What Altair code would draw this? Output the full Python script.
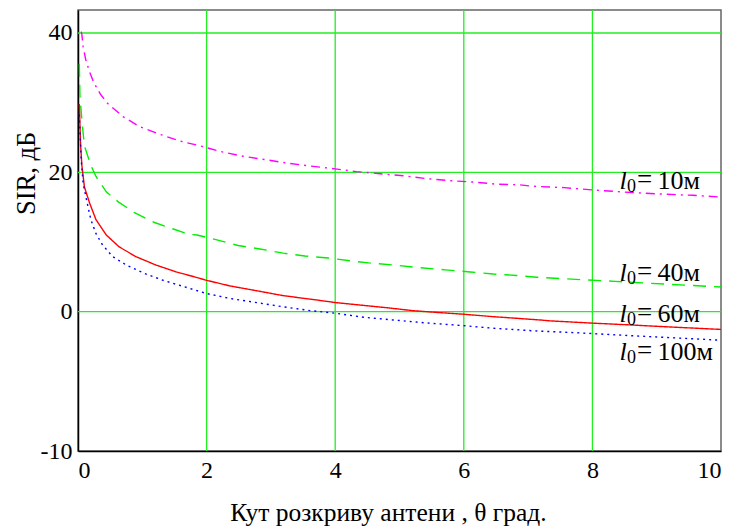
import altair as alt
import pandas as pd

# ---- data ----
series_names = ["l0=10", "l0=40", "l0=60", "l0=100"]

x_10 = [0.05, 0.06, 0.08, 0.12, 0.18, 0.25, 0.35, 0.46, 0.70, 0.95, 1.26, 1.58, 1.90, 2.21,
        2.57, 2.93, 3.27, 3.61, 4.00, 4.33, 4.70, 5.06, 5.42, 5.79, 6.15, 6.51, 6.87, 7.08,
        7.56, 8.03, 8.61, 9.14, 9.56, 10.0]
y_10 = [40.2, 39.8, 38.0, 36.2, 34.4, 32.8, 31.2, 29.9, 28.0, 26.6, 25.5, 24.5, 23.8, 23.0,
        22.3, 21.8, 21.3, 20.9, 20.5, 20.1, 19.8, 19.5, 19.1, 18.8, 18.6, 18.3, 18.2, 18.0,
        17.8, 17.45, 17.1, 16.85, 16.7, 16.45]

x_40 = [0.02, 0.03, 0.06, 0.10, 0.20, 0.28, 0.44, 0.62, 0.88, 1.19, 1.47, 1.73, 1.85, 2.16,
        2.49, 2.83, 3.19, 3.53, 3.89, 4.23, 4.52, 4.90, 5.32, 5.71, 6.10, 6.46, 6.82, 7.13,
        7.82, 8.35, 9.14, 10.0]
y_40 = [35.6, 31.0, 27.5, 23.8, 21.0, 19.4, 17.2, 15.8, 14.2, 12.8, 11.9, 11.1, 11.0, 10.3,
        9.5, 9.0, 8.4, 8.0, 7.7, 7.3, 7.0, 6.7, 6.3, 6.0, 5.7, 5.4, 5.2, 4.95,
        4.6, 4.35, 3.95, 3.55]

x_60 = [0.02, 0.04, 0.06, 0.10, 0.18, 0.28, 0.44, 0.64, 0.90, 1.21, 1.53, 1.81, 2.00, 2.36,
        2.78, 3.19, 3.61, 4.01, 4.44, 4.80, 5.21, 5.63, 6.00, 6.46, 6.82, 7.18, 7.34, 8.01,
        8.58, 9.10, 10.0]
y_60 = [29.8, 24.0, 21.0, 17.9, 15.6, 13.2, 11.0, 9.3, 7.9, 6.7, 5.7, 5.0, 4.5, 3.7,
        3.0, 2.3, 1.8, 1.3, 0.9, 0.57, 0.14, -0.14, -0.37, -0.72, -0.95, -1.19, -1.32, -1.65,
        -1.9, -2.15, -2.55]

x_100 = [0.02, 0.05, 0.08, 0.15, 0.20, 0.28, 0.38, 0.54, 0.75, 1.03, 1.34, 1.68, 2.00, 2.36,
         2.78, 3.19, 3.61, 4.01, 4.44, 4.90, 5.42, 5.99, 6.46, 7.08, 7.81, 8.58, 9.36, 10.0]
y_100 = [28.3, 21.8, 18.4, 15.3, 13.2, 11.2, 9.6, 7.9, 6.7, 5.5, 4.45, 3.5, 2.6, 1.9,
         1.3, 0.7, 0.15, -0.23, -0.8, -1.19, -1.62, -2.0, -2.38, -2.75, -3.05, -3.44, -3.8, -4.1]

x_ticks = [0, 2, 4, 6, 8, 10]
y_ticks = [-20, 0, 20, 40]
x_grid = [2, 4, 6, 8]
y_grid = [0, 20, 40]

label_numbers = ["10м", "40м", "60м", "100м"]
label_x = [8.42, 8.42, 8.42, 8.42]
label_y = [17.6, 4.4, -1.55, -7.0]

# ---- tables ----
rows = []
for name, xs, ys in zip(series_names, [x_10, x_40, x_60, x_100], [y_10, y_40, y_60, y_100]):
    for a, b in zip(xs, ys):
        rows.append({"series": name, "x": a, "y": b})
df = pd.DataFrame(rows)

labels = pd.DataFrame({"x": label_x, "y": label_y, "num": label_numbers,
                       "l": ["l"] * 4, "sub": ["0"] * 4, "eq": ["="] * 4})
vgrid = pd.DataFrame({"x": x_grid})
hgrid = pd.DataFrame({"y": y_grid})

colors = ["#ff00ff", "#00ee00", "#ff0000", "#0000ff"]
dashes = [[9, 5, 2, 5], [13, 8], [1, 0], [2, 4]]

FONT = "Liberation Serif"
x_scale = alt.Scale(domain=[0, 10], nice=False, zero=False)
y_scale = alt.Scale(domain=[-20, 43.3], nice=False, zero=False)

x_axis = alt.Axis(values=x_ticks, format="d", title="Кут розкриву антени , θ град.",
                  labelFlush=True, labelPadding=7, titleY=69, titleX=310,
                  titleBaseline="alphabetic", titleFontSize=25.5)
y_axis = alt.Axis(values=y_ticks, labelExpr="datum.value == -20 ? '-10' : datum.label",
                  title="SIR, дБ", labelPadding=6, titleX=-44, titleY=163, titleAngle=270,
                  titleBaseline="alphabetic", titleAlign="center", titleFontSize=26.5)

vrules = alt.Chart(vgrid).mark_rule(color="#22ee22", strokeWidth=1.3).encode(
    x=alt.X("x:Q", scale=x_scale, axis=x_axis))
hrules = alt.Chart(hgrid).mark_rule(color="#22ee22", strokeWidth=1.3).encode(
    y=alt.Y("y:Q", scale=y_scale, axis=y_axis))

lines = alt.Chart(df).mark_line(strokeWidth=1.4).encode(
    x=alt.X("x:Q", scale=x_scale, axis=x_axis),
    y=alt.Y("y:Q", scale=y_scale, axis=y_axis),
    color=alt.Color("series:N", scale=alt.Scale(domain=series_names, range=colors), legend=None),
    strokeDash=alt.StrokeDash("series:N", scale=alt.Scale(domain=series_names, range=dashes),
                              legend=None),
    detail="series:N",
)

base = alt.Chart(labels).encode(x=alt.X("x:Q", scale=x_scale), y=alt.Y("y:Q", scale=y_scale))
t_l = base.mark_text(font=FONT, fontSize=26, fontStyle="italic", align="left",
                     baseline="alphabetic", color="black").encode(text="l:N")
t_sub = base.mark_text(font=FONT, fontSize=18, align="left", baseline="alphabetic",
                       color="black", dx=7.5, dy=3).encode(text="sub:N")
t_eq = base.mark_text(font=FONT, fontSize=27, align="left", baseline="alphabetic",
                      color="black", dx=17.5, dy=-1).encode(text="eq:N")
t_num = base.mark_text(font=FONT, fontSize=26, align="left", baseline="alphabetic",
                       color="black", dx=38).encode(text="num:N")

chart = alt.layer(vrules, hrules, lines, t_l, t_sub, t_eq, t_num).properties(
    width=643, height=441,
    autosize=alt.AutoSizeParams(type="none"),
    padding={"left": 78, "top": 10, "right": 8, "bottom": 77},
    background="white",
).configure_view(stroke="#666666", strokeWidth=1.5).configure_axis(
    grid=False, ticks=False, labelFont=FONT, labelFontSize=24, labelColor="black",
    domainColor="black", domainWidth=1.5, titleFont=FONT, titleFontWeight="normal",
    titleColor="black",
)

chart.save("out.html", embed_options={"renderer": "svg", "actions": False})
